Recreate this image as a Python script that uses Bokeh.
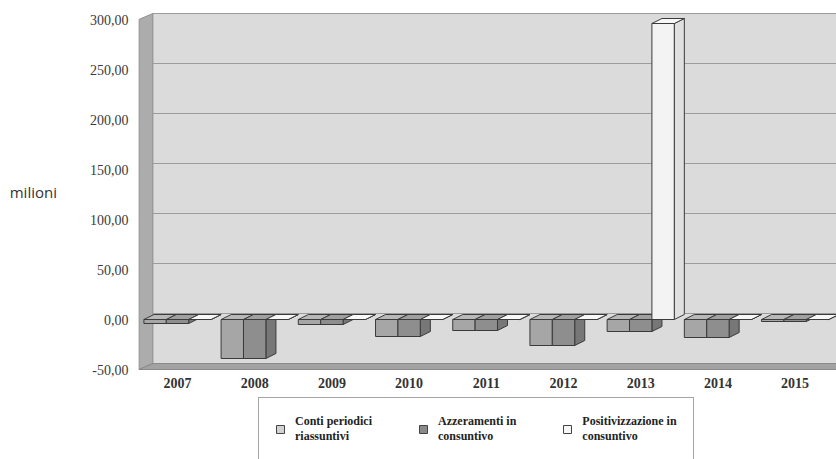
from bokeh.plotting import figure
from bokeh.layouts import column
from bokeh.models import ColumnDataSource, FixedTicker, Range1d, Legend, LegendItem
from bokeh.embed import file_html
from bokeh.resources import INLINE

# ---------------- data ----------------
years = ["2007", "2008", "2009", "2010", "2011", "2012", "2013", "2014", "2015"]
conti = [-4, -39, -5, -17, -11, -26, -12, -18, -2]
azzeramenti = [-4, -39, -5, -17, -11, -26, -12, -18, -2]
positivizzazione = [0, 0, 0, 0, 0, 0, 296, 0, 0]
series_names = ["Conti periodici\nriassuntivi", "Azzeramenti in\nconsuntivo", "Positivizzazione in\nconsuntivo"]
y_ticks = [-50, 0, 50, 100, 150, 200, 250, 300]
y_tick_labels = ["-50,00", "0,00", "50,00", "100,00", "150,00", "200,00", "250,00", "300,00"]
y_title = "milioni"

# ---------------- styling / geometry ----------------
BW = 0.29          # bar width (category units)
DX, DY = 0.13, 5   # bar depth offset
DXW, DYW = 0.18, 6 # wall depth offset
X0 = -0.5
X_START, X_END = -0.505, 8.536
FLOOR = -50
WALL_TOP = 306

front_cols = ["#a6a6a6", "#8e8e8e", "#f3f3f3"]
top_cols = ["#b8b8b8", "#a0a0a0", "#f8f8f8"]
side_cols = ["#8e8e8e", "#777777", "#e0e0e0"]
legend_cols = ["#d2d2d2", "#8a8a8a", "#f7f7f7"]
OUT = "#3a3a3a"

p = figure(width=836, height=396,
           x_range=Range1d(X_START, X_END), y_range=Range1d(-51, 307),
           min_border_left=138, min_border_right=0, min_border_top=12, min_border_bottom=26,
           output_backend="svg", toolbar_location=None)
p.xgrid.visible = False
p.ygrid.visible = False
p.outline_line_color = None
p.background_fill_color = "white"
p.border_fill_color = "white"

# walls
wall_xs = [
    [X0 + DXW, X_END + 1, X_END + 1, X0 + DXW],
    [X0, X0 + DXW, X0 + DXW, X0],
    [X0, X_END + 1, X_END + 1 + DXW, X0 + DXW],
]
wall_ys = [
    [FLOOR + DYW, FLOOR + DYW, WALL_TOP, WALL_TOP],
    [FLOOR, FLOOR + DYW, WALL_TOP, WALL_TOP - DYW],
    [FLOOR, FLOOR, FLOOR + DYW, FLOOR + DYW],
]
wall_fill = ["#dbdbdb", "#acacac", "#a2a2a2"]
p.patches(wall_xs, wall_ys, fill_color=wall_fill, line_color=["#c0c0c0", "#8e8e8e", "#8a8a8a"], line_width=1)

# back-wall gridlines
g_vals = [t for t in y_ticks if t > FLOOR]
p.segment(x0=[X0 + DXW] * len(g_vals), x1=[X_END + 1] * len(g_vals),
          y0=[t + DYW for t in g_vals], y1=[t + DYW for t in g_vals],
          line_color="#9c9c9c", line_width=1)

# 3D bars
xs, ys, fills = [], [], []
for i in range(len(years)):
    for k, vals in enumerate([conti, azzeramenti, positivizzazione]):
        v = vals[i]
        x0 = i + (k - 1) * BW - BW / 2
        x1 = x0 + BW
        top = max(v, 0)
        bot = min(v, 0)
        xs.append([x1, x1 + DX, x1 + DX, x1]); ys.append([bot, bot + DY, top + DY, top]); fills.append(side_cols[k])
        xs.append([x0, x1, x1 + DX, x0 + DX]); ys.append([top, top, top + DY, top + DY]); fills.append(top_cols[k])
        xs.append([x0, x1, x1, x0]); ys.append([bot, bot, top, top]); fills.append(front_cols[k])
src = ColumnDataSource(dict(xs=xs, ys=ys, fill=fills))
p.patches("xs", "ys", source=src, fill_color="fill", line_color=OUT, line_width=1)

# axes
p.yaxis.ticker = FixedTicker(ticks=y_ticks)
p.yaxis.major_label_overrides = {t: l for t, l in zip(y_ticks, y_tick_labels)}
p.yaxis.axis_line_color = None
p.yaxis.major_tick_line_color = None
p.yaxis.minor_tick_line_color = None
p.yaxis.major_label_standoff = 4
p.yaxis.major_label_text_font = "Liberation Serif"
p.yaxis.major_label_text_font_size = "14px"
p.yaxis.major_label_text_color = "#3a3a3a"
p.yaxis.axis_label = y_title
p.yaxis.axis_label_text_font = "Open Sans"
p.yaxis.axis_label_text_font_style = "normal"
p.yaxis.axis_label_text_font_size = "15px"
p.yaxis.axis_label_text_color = "#333333"
p.yaxis.axis_label_standoff = 30
try:
    p.yaxis.axis_label_orientation = "horizontal"
except Exception:
    pass

p.xaxis.ticker = FixedTicker(ticks=list(range(len(years))))
p.xaxis.major_label_overrides = {i: y for i, y in enumerate(years)}
p.xaxis.axis_line_color = None
p.xaxis.major_tick_line_color = None
p.xaxis.minor_tick_line_color = None
p.xaxis.major_label_standoff = 1
p.xaxis.major_label_text_font = "Liberation Serif"
p.xaxis.major_label_text_font_style = "bold"
p.xaxis.major_label_text_font_size = "14px"
p.xaxis.major_label_text_color = "#333333"

# legend figure (stacked under the chart)
lf = figure(width=836, height=63, x_range=Range1d(0, 1), y_range=Range1d(0, 1),
            min_border=0, x_axis_type=None, y_axis_type=None,
            output_backend="svg", toolbar_location=None)
lf.outline_line_color = None
lf.xgrid.visible = False
lf.ygrid.visible = False
lf.border_fill_color = "white"
# legend proxies (kept outside the visible range)
lr = [lf.quad(left=[5], right=[6], top=[6], bottom=[5], fill_color=c, line_color="#444444")
      for c in legend_cols]
legend = Legend(items=[LegendItem(label=n, renderers=[r]) for n, r in zip(series_names, lr)],
                orientation="horizontal", location=(120, -2),
                padding=16, spacing=46, margin=0, label_standoff=10,
                glyph_width=10, glyph_height=10,
                label_text_font="Liberation Serif", label_text_font_style="bold",
                label_text_font_size="12px", label_text_color="#222222",
                border_line_color="#4a4a4a", border_line_width=1.5,
                background_fill_color="white", background_fill_alpha=1.0)
lf.add_layout(legend)

layout = column(p, lf, spacing=0)
open("out.html", "w").write(file_html(layout, INLINE))
